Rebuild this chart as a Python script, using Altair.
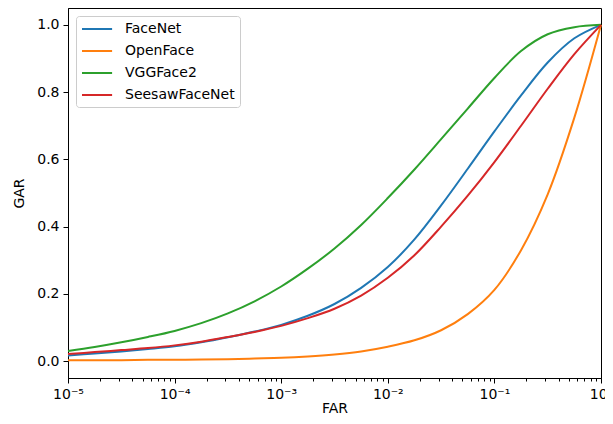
import altair as alt
import pandas as pd

FAR = [1e-5, 1.778e-5, 3.162e-5, 5.623e-5,
       1e-4, 1.778e-4, 3.162e-4, 5.623e-4,
       1e-3, 1.778e-3, 3.162e-3, 5.623e-3,
       1e-2, 1.778e-2, 3.162e-2, 5.623e-2,
       1e-1, 1.778e-1, 3.162e-1, 5.623e-1, 1.0]

SERIES = ["FaceNet", "OpenFace", "VGGFace2", "SeesawFaceNet"]
COLORS = ["#1f77b4", "#ff7f0e", "#2ca02c", "#d62728"]

facenet = [0.017, 0.023, 0.029, 0.036, 0.044, 0.056, 0.071, 0.088,
           0.108, 0.135, 0.170, 0.218, 0.280, 0.362, 0.463, 0.572,
           0.683, 0.790, 0.888, 0.960, 1.0]
openface = [0.003, 0.003, 0.003, 0.004, 0.004, 0.005, 0.006, 0.008,
            0.010, 0.014, 0.020, 0.029, 0.043, 0.062, 0.092, 0.140,
            0.212, 0.330, 0.496, 0.724, 1.0]
vggface2 = [0.030, 0.042, 0.056, 0.072, 0.090, 0.113, 0.142, 0.178,
            0.222, 0.275, 0.335, 0.405, 0.485, 0.570, 0.660, 0.751,
            0.842, 0.922, 0.972, 0.993, 1.0]
seesaw = [0.021, 0.027, 0.033, 0.039, 0.047, 0.058, 0.072, 0.087,
          0.105, 0.128, 0.156, 0.195, 0.248, 0.315, 0.400, 0.492,
          0.592, 0.700, 0.810, 0.913, 1.0]

X_TICKS = [1e-5, 2e-5, 3e-5, 4e-5, 5e-5, 6e-5, 7e-5, 8e-5, 9e-5,
           1e-4, 2e-4, 3e-4, 4e-4, 5e-4, 6e-4, 7e-4, 8e-4, 9e-4,
           1e-3, 2e-3, 3e-3, 4e-3, 5e-3, 6e-3, 7e-3, 8e-3, 9e-3,
           1e-2, 2e-2, 3e-2, 4e-2, 5e-2, 6e-2, 7e-2, 8e-2, 9e-2,
           1e-1, 2e-1, 3e-1, 4e-1, 5e-1, 6e-1, 7e-1, 8e-1, 9e-1, 1.0]
X_LABELS = ["10\u2070", "10\u207b\u00b9", "10\u207b\u00b2", "10\u207b\u00b3",
            "10\u207b\u2074", "10\u207b\u2075"]
Y_TICKS = [0.0, 0.2, 0.4, 0.6, 0.8, 1.0]

rows = []
for name, vals in zip(SERIES, [facenet, openface, vggface2, seesaw]):
    for i, (f, g) in enumerate(zip(FAR, vals)):
        rows.append({"model": name, "FAR": f, "GAR": g, "order": i})
df = pd.DataFrame(rows)

is_major = "abs(log(datum.value)/LN10 - round(log(datum.value)/LN10)) < 0.001"
label_arr = "[" + ",".join("'" + s + "'" for s in X_LABELS) + "]"
label_expr = f"{is_major} ? {label_arr}[round(-log(datum.value)/LN10)] : ''"

chart = alt.Chart(df).mark_line(strokeWidth=2, interpolate="catmull-rom").encode(
    x=alt.X("FAR:Q",
            scale=alt.Scale(type="log", domain=[1e-5, 1], nice=False),
            axis=alt.Axis(values=X_TICKS, labelExpr=label_expr,
                          tickSize={"condition": {"test": is_major, "value": 5}, "value": 3},
                          labelFlush=False, labelOverlap=False, grid=False,
                          title="FAR", labelPadding=4, titlePadding=0)),
    y=alt.Y("GAR:Q",
            scale=alt.Scale(domain=[-0.05, 1.05], nice=False, zero=False),
            axis=alt.Axis(values=Y_TICKS, format=".1f", grid=False, tickSize=5,
                          title="GAR", labelPadding=4, titlePadding=10)),
    color=alt.Color("model:N",
                    scale=alt.Scale(domain=SERIES, range=COLORS),
                    sort=SERIES,
                    legend=alt.Legend(title=None, orient="top-left", offset=8,
                                      symbolType="M-1,0H3.3", symbolSize=196,
                                      symbolStrokeWidth=2, labelOffset=28,
                                      fillColor="white", strokeColor="#cccccc",
                                      cornerRadius=3, padding=5, rowPadding=7,
                                      labelFontSize=14, labelFont="DejaVu Sans",
                                      labelColor="black")),
    order="order:Q",
).properties(
    width=533, height=370,
    padding={"left": 60, "top": 0, "right": 4, "bottom": 38},
    autosize=alt.AutoSizeParams(type="none"),
).configure_view(
    stroke="black", strokeWidth=1
).configure_axis(
    domainColor="black", tickColor="black", labelColor="black", titleColor="black",
    labelFont="DejaVu Sans", titleFont="DejaVu Sans", labelFontSize=14,
    titleFontSize=14, titleFontWeight="normal", domainWidth=1, tickWidth=1,
)

chart.save("out.html", embed_options={"renderer": "svg", "actions": False})
